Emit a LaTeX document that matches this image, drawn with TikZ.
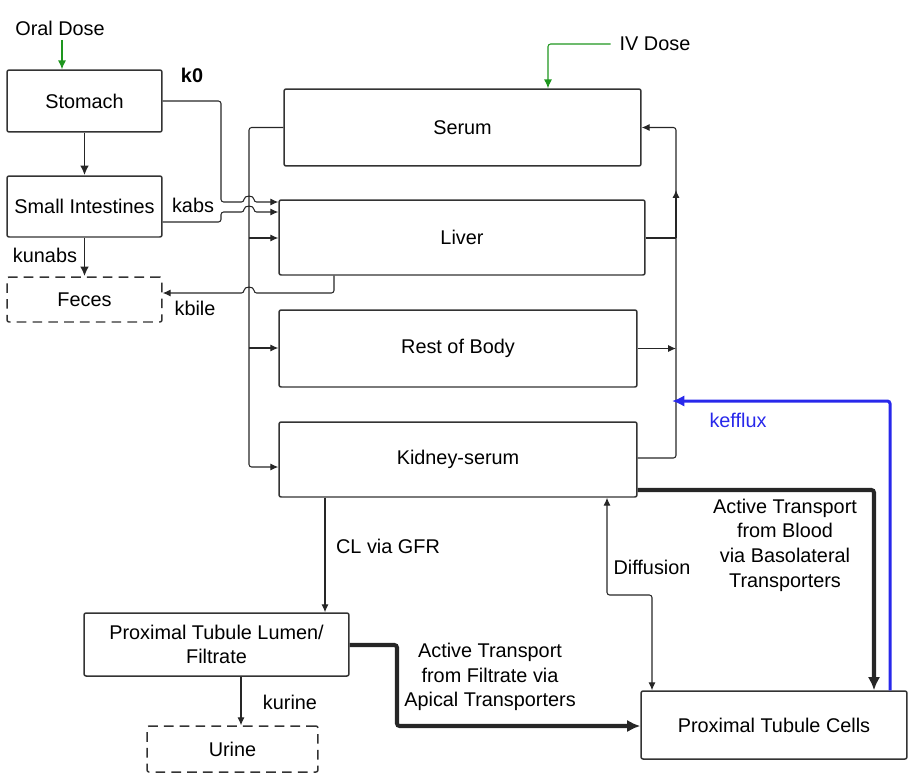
\documentclass[tikz,border=0pt]{standalone}
\usepackage{fontspec}
\setmainfont{Liberation Sans}
\usetikzlibrary{arrows.meta}
\definecolor{dosegreen}{RGB}{30,150,30}
\definecolor{effluxblue}{RGB}{40,40,235}

\tikzset{
  box/.style={draw=black!80, line width=0.85pt, rounded corners=1.2pt, align=center, inner sep=0pt},
  sinkbox/.style={box, dash pattern=on 5.5pt off 3.5pt},
  flow/.style={draw=black!85, line width=0.6pt, rounded corners=1.5pt, -{Latex[length=4.5pt,width=4pt]}},
  gutflow/.style={flow, line width=1.1pt, -{Latex[length=5.5pt,width=5pt]}},
  thickflow/.style={flow, line width=2.3pt, -{Latex[length=7.5pt,width=7pt]}},
  doseflow/.style={flow, draw=dosegreen, -{Latex[length=5pt,width=4.5pt,color=dosegreen]}},
  lbl/.style={inner sep=1pt, align=center},
}

\begin{document}
\begin{tikzpicture}[x=0.02cm, y=-0.02cm, font=\fontsize{11.3}{14}\selectfont]
    \useasboundingbox (0,0) rectangle (911,777);

    % compartments
    \node [box, minimum width=3.1cm, minimum height=1.24cm] (stomach) at (84.5,101) {Stomach};
    \node [box, minimum width=3.1cm, minimum height=1.22cm] (smallint) at (84.5,206.5) {Small Intestines};
    \node [sinkbox, minimum width=3.1cm, minimum height=0.9cm] (feces) at (84.5,299.5) {Feces};
    \node [box, minimum width=7.14cm, minimum height=1.54cm] (serum) at (462.5,127.5) {Serum};
    \node [box, minimum width=7.32cm, minimum height=1.5cm] (liver) at (462,237.5) {Liver};
    \node [box, minimum width=7.16cm, minimum height=1.54cm] (rest) at (458,348.5) {Rest of Body};
    \node [box, minimum width=7.16cm, minimum height=1.5cm] (kidney) at (458,459.5) {Kidney-serum};
    \node [box, minimum width=5.3cm, minimum height=1.26cm] (ptl) at (216.5,644.5) {Proximal Tubule Lumen/\\Filtrate};
    \node [sinkbox, minimum width=3.42cm, minimum height=0.92cm] (urine) at (232.5,749) {Urine};
    \node [box, minimum width=5.32cm, minimum height=1.36cm] (ptc) at (774,725) {Proximal Tubule Cells};

    % doses
    \node [lbl] (oral) at (60,28) {Oral Dose};
    \coordinate (oraldrop) at (62,40);
    \draw [doseflow] (oraldrop) -- (oraldrop |- stomach.north);
    \node [lbl] (iv) at (655,44) {IV Dose};
    \coordinate (ivdrop) at (548,0);
    \draw [doseflow] ([xshift=-4pt]iv.west) -| (ivdrop |- serum.north);

    % gut
    \draw [gutflow] (stomach.south) -- (smallint.north);
    \draw [gutflow] (smallint.south) -- (feces.north);
    \node [lbl] (kunabs) at (45,255) {kunabs};
    \draw [flow] (stomach.east) -- (221,101) -- (221,202) -- (244,202)
        .. controls (244,195) and (254,195) .. (254,202) -- (liver.west |- 0,202);
    \node [lbl] (k0) at (192,75) {\bfseries k0};
    \draw [flow] (smallint.east |- 0,222) -- (221,222) -- (221,212) -- (244,212)
        .. controls (244,205) and (254,205) .. (254,212) -- (liver.west |- 0,212);
    \node [lbl] (kabs) at (193,205) {kabs};
    \draw [flow] (liver.south -| 334,0) -- (334,293) -- (254,293)
        .. controls (254,286) and (244,286) .. (244,293) -- (feces.east |- 0,293);
    \node [lbl] (kbile) at (195,308) {kbile};

    % serum to tissues
    \draw [flow] (serum.west) -- (249,127.5) -- (249,467) -- (kidney.west |- 0,467);
    \draw [flow] (249,238) -- (liver.west |- 0,238);
    \draw [flow] (249,348) -- (rest.west |- 0,348);

    % tissues back to serum
    \draw [flow] (kidney.east |- 0,458) -- (676,458) -- (676,127.5) -- (serum.east);
    \draw [flow, -] (liver.east |- 0,238) -- (676,238);
    \draw [flow] (676,238) -- (676,190);
    \draw [flow] (rest.east) -- (676,348.5);

    % kidney
    \draw [flow] (kidney.south -| 325,0) -- (ptl.north -| 325,0);
    \node [lbl] (gfr) at (388,546) {CL via GFR};
    \draw [flow, {Latex[length=4.5pt,width=4pt]}-{Latex[length=4.5pt,width=4pt]}]
        (kidney.south -| 607,0) -- (607,595) -- (652,595) -- (ptc.north -| 652,0);
    \node [lbl] (diff) at (652,567) {Diffusion};
    \draw [thickflow] (kidney.east |- 0,490) -- (874,490) -- (ptc.north -| 874,0);
    \node [lbl] (basolat) at (785,545) {Active Transport\\from Blood\\via Basolateral\\Transporters};
    \draw [thickflow] (ptl.east |- 0,645) -- (397,645) -- (397,726) -- (ptc.west |- 0,726);
    \node [lbl] (apical) at (490,677) {Active Transport\\from Filtrate via\\Apical Transporters};
    \draw [flow] (ptl.south -| 241,0) -- (urine.north -| 241,0);
    \node [lbl] (kurine) at (290,702) {kurine};
    \draw [thickflow, draw=effluxblue, line width=1.7pt, -{Latex[length=7pt,width=6.5pt,color=effluxblue]}]
        (ptc.north -| 890,0) -- (890,401) -- (672,401);
    \node [lbl, text=effluxblue] (kefflux) at (738,420) {kefflux};
\end{tikzpicture}
\end{document}
